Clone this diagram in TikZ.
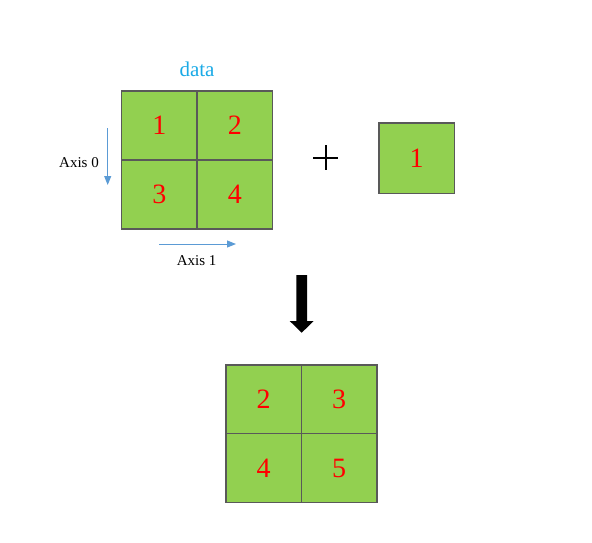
\documentclass[tikz,border=0pt]{standalone}
\usepackage{fontspec}
\setmainfont{Liberation Serif}
\usetikzlibrary{arrows.meta}
\definecolor{cellgreen}{HTML}{92D050}
\definecolor{cellborder}{HTML}{595959}
\definecolor{numred}{HTML}{FF0000}
\definecolor{axisblue}{HTML}{5B9BD5}
\definecolor{titleblue}{HTML}{1AAAE6}
\begin{document}
\begin{tikzpicture}[x=1pt,y=-1pt,
  cell/.style={fill=cellgreen, minimum width=75.4pt, minimum height=69pt, inner sep=0pt, outer sep=0pt, text=numred, font=\fontsize{28}{28}\selectfont},
  cellframe/.style={draw=cellborder, line width=1.5pt},
  axislabel/.style={font=\fontsize{15}{15}\selectfont, inner sep=0pt},
  axisarrow/.style={draw=axisblue, line width=1pt, -{Triangle[length=9pt,width=7pt]}},
  plusline/.style={draw=black, line width=1.8pt}]
\useasboundingbox (0,0) rectangle (592,542);
% title
\node[font=\fontsize{21}{21}\selectfont, text=titleblue, inner sep=0pt] (title) at (197,69) {data};
% top grid
\node[cell] (a1) at (159.4,125.3) {1};
\node[cell] (a2) at (234.8,125.3) {2};
\node[cell] (a3) at (159.4,194.4) {3};
\node[cell] (a4) at (234.8,194.4) {4};
% single box
\node[cell, minimum height=70.3pt] (b) at (416.7,158.2) {1};
% bottom grid
\node[cell, minimum height=68.7pt] (c1) at (263.7,399.3) {2};
\node[cell, minimum height=68.7pt] (c2) at (339.1,399.3) {3};
\node[cell, minimum height=68.7pt] (c3) at (263.7,468) {4};
\node[cell, minimum height=68.7pt] (c4) at (339.1,468) {5};
% cell frames
\foreach \n in {a1,a2,a3,a4,b,c1,c2,c3,c4}
  \draw[cellframe] (\n.north west) rectangle (\n.south east);
% axis arrows
\coordinate (ax0s) at (107.7,128);
\coordinate (ax0e) at (107.7,185);
\coordinate (ax1s) at (159,244);
\coordinate (ax1e) at (236,244);
\draw[axisarrow] (ax0s) -- (ax0e);
\draw[axisarrow] (ax1s) -- (ax1e);
\node[axislabel] (lab0) at (79,163) {Axis 0};
\node[axislabel] (lab1) at (196.7,261) {Axis 1};
% plus sign
\coordinate (pl) at (313.2,157.7);
\coordinate (pr) at (338.2,157.7);
\coordinate (pt) at (325.7,145.2);
\coordinate (pb) at (325.7,170.2);
\draw[plusline] (pl) -- (pr);
\draw[plusline] (pt) -- (pb);
% big black arrow
\fill[black] (296.3,275) -- (307.1,275) -- (307.1,321) -- (313.7,321) -- (301.7,332.7) -- (289.7,321) -- (296.3,321) -- cycle;
\end{tikzpicture}
\end{document}
